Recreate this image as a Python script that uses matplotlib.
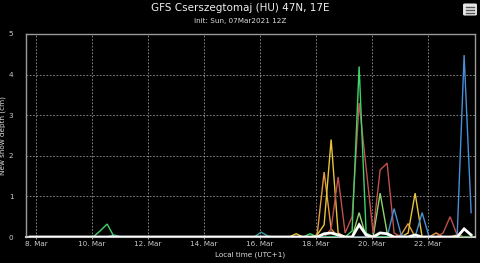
import matplotlib
matplotlib.use("Agg")
import matplotlib.pyplot as plt
import matplotlib.dates as mdates
from matplotlib.patches import FancyBboxPatch
from matplotlib.lines import Line2D
import pandas as pd

# ---------------- data ----------------
times = pd.date_range("2021-03-07 19:00", periods=64, freq="6h")

green_a = [0, 0, 0, 0, 0, 0, 0, 0, 0, 0, 0.15, 0.32, 0, 0, 0, 0,
           0, 0, 0, 0, 0, 0, 0, 0, 0, 0, 0, 0, 0, 0, 0, 0,
           0, 0, 0, 0, 0, 0, 0, 0, 0.08, 0, 0, 0, 0, 0, 0.15, 4.2,
           0.1, 0, 0, 0, 0, 0, 0, 0, 0, 0, 0, 0, 0, 0, 0, 0]
green_b = [0] * 32 + \
          [0, 0, 0, 0, 0, 0, 0, 0, 0, 0, 0, 0, 0, 0, 0, 0.6,
           0, 0, 1.08, 0.1, 0, 0, 0, 0, 0, 0, 0, 0, 0, 0, 0, 0]
red = [0] * 32 + \
      [0, 0, 0, 0, 0, 0, 0, 0, 0, 0, 0, 0.2, 1.48, 0.1, 0.5, 3.3,
       1.7, 0.1, 1.65, 1.82, 0.1, 0, 0, 0, 0, 0, 0, 0.1, 0.5, 0.05, 0, 0]
yellow = [0] * 32 + \
         [0, 0, 0, 0, 0, 0, 0.08, 0, 0, 0.05, 0.3, 2.4, 0.1, 0, 0, 0,
          0, 0, 0, 0, 0, 0, 0.1, 1.08, 0, 0, 0, 0, 0, 0.05, 0, 0]
orange = [0] * 32 + \
         [0, 0, 0, 0, 0, 0, 0, 0, 0, 0.05, 1.6, 0.2, 0, 0, 0, 0,
          0, 0, 0, 0, 0, 0.05, 0.33, 0, 0, 0, 0.1, 0, 0, 0, 0, 0]
blue = [0] * 48 + \
       [0, 0, 0, 0, 0.7, 0.05, 0, 0, 0.6, 0, 0, 0, 0, 0, 4.48, 0.6]
teal = [0, 0, 0, 0, 0, 0, 0, 0, 0, 0, 0, 0, 0.05, 0, 0, 0,
        0, 0, 0, 0, 0, 0, 0, 0, 0, 0, 0, 0, 0, 0, 0, 0,
        0, 0.12, 0.02, 0, 0, 0, 0, 0, 0, 0, 0, 0, 0, 0, 0, 0,
        0, 0, 0, 0, 0, 0, 0, 0, 0, 0, 0, 0, 0, 0, 0, 0]
mean = [0] * 32 + \
       [0, 0, 0, 0, 0, 0, 0, 0, 0, 0, 0.08, 0.1, 0.05, 0, 0, 0.3,
        0.05, 0, 0.1, 0.08, 0, 0, 0, 0.05, 0, 0, 0, 0, 0, 0, 0.2, 0.05]

tick_days = ["2021-03-08", "2021-03-10", "2021-03-12", "2021-03-14",
             "2021-03-16", "2021-03-18", "2021-03-20", "2021-03-22"]
tick_labels = ["8. Mar", "10. Mar", "12. Mar", "14. Mar",
               "16. Mar", "18. Mar", "20. Mar", "22. Mar"]
y_ticks = [0, 1, 2, 3, 4, 5]

title = "GFS Cserszegtomaj (HU) 47N, 17E"
subtitle = "Init: Sun, 07Mar2021 12Z"

# ---------------- figure ----------------
fig = plt.figure(figsize=(4.8, 2.63), dpi=100, facecolor="black")
ax = fig.add_axes([26 / 480, 1 - 237 / 263, 449 / 480, 203 / 263])
ax.set_facecolor("black")

series = [
    (teal, "#3a9aa0", 1.0),
    (green_b, "#8fd46a", 1.0),
    (orange, "#e39a3a", 1.0),
    (yellow, "#e8c43a", 1.0),
    (red, "#c0504d", 1.0),
    (blue, "#4a8fd6", 1.0),
    (green_a, "#3fd46a", 1.0),
    (mean, "#ffffff", 2.0),
]
for vals, col, lw in series:
    ax.plot(times, vals, color=col, lw=lw, solid_joinstyle="miter", zorder=3)

ax.set_xlim(pd.Timestamp("2021-03-07 15:26"), pd.Timestamp("2021-03-23 16:20"))
ax.set_ylim(0, 5)
ax.set_xticks(pd.to_datetime(tick_days))
ax.set_xticklabels(tick_labels)
ax.set_yticks(y_ticks)
ax.set_yticklabels([str(v) for v in y_ticks])

ax.grid(True, color="#bbbbbb", linestyle=(0, (2, 2)), linewidth=0.6, alpha=0.8)
ax.set_axisbelow(True)

for side in ["left", "top", "right"]:
    ax.spines[side].set_color("#9a9a9a")
    ax.spines[side].set_linewidth(1.0)
ax.spines["bottom"].set_color("#c8c8c8")
ax.spines["bottom"].set_linewidth(1.5)

ax.tick_params(axis="x", colors="#cccccc", labelsize=5.2, length=3, width=0.6,
               direction="inout", pad=1.5)
ax.tick_params(axis="y", colors="#cccccc", labelsize=5.2, length=0, pad=9)
for lab in ax.get_yticklabels():
    lab.set_color("#cccccc")

ax.set_ylabel("New snow depth (cm)", color="#dddddd", fontsize=5.2, labelpad=2)
ax.set_xlabel("Local time (UTC+1)", color="#dddddd", fontsize=5.2, labelpad=3)

fig.text(0.5, 1 - 8 / 263, title, color="#eeeeee", fontsize=7.5,
         ha="center", va="center")
fig.text(0.5, 1 - 21 / 263, subtitle, color="#dddddd", fontsize=5.2,
         ha="center", va="center")

# hamburger menu icon
box = FancyBboxPatch((464 / 480, 1 - 15 / 263), 12 / 480, 11 / 263,
                     boxstyle="round,pad=0.002,rounding_size=0.004",
                     transform=fig.transFigure, facecolor="#e6e6e6",
                     edgecolor="none")
fig.patches.append(box)
for yy in (6.5, 9.5, 12.5):
    fig.lines.append(Line2D([466 / 480, 474 / 480], [1 - yy / 263, 1 - yy / 263],
                            transform=fig.transFigure, color="#555555", lw=1.0))

fig.savefig("out.png", dpi=100, facecolor="black")
